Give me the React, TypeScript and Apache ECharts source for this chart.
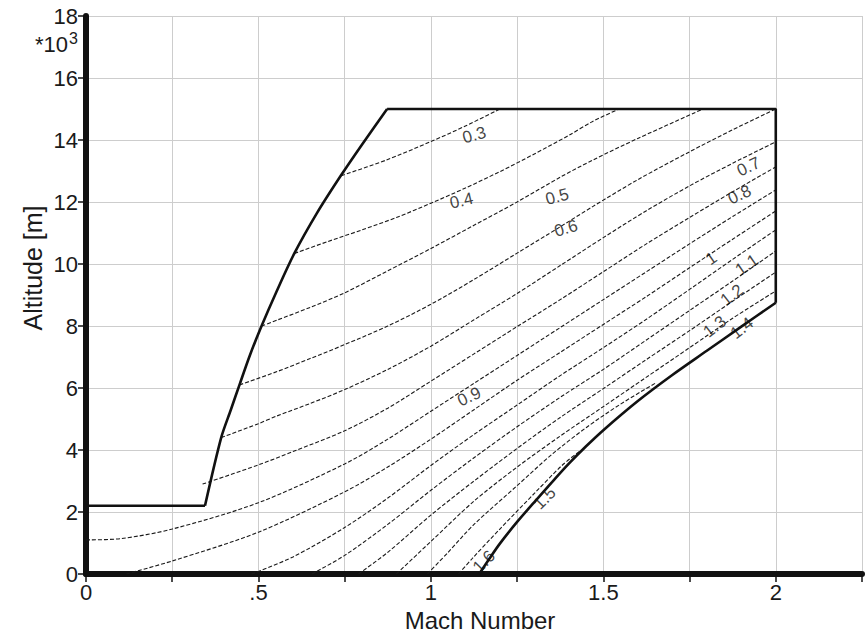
import React, { useEffect, useRef } from "react";
import * as echarts from "echarts";

// Mach tick labels shown on the x axis (every other 0.25 step)
const machLabels: Record<string, string> = { "0": "0", "0.5": ".5", "1": "1", "1.5": "1.5", "2": "2" };

// Flight envelope outline in four pieces: [Mach, altitude in 10^3 m]
const envelopeLeft = [[0, 2.2], [0.345, 2.2]];
const envelopeClimb = [[0.345, 2.2], [0.392, 4.4], [0.42, 5.3], [0.445, 6.1], [0.475, 7.05], [0.509, 8.0], [0.55, 9.05], [0.604, 10.34], [0.67, 11.65], [0.74, 12.87], [0.8, 13.85], [0.873, 15.0]];
const envelopeCeiling = [[0.873, 15.0], [2.0, 15.0], [2.0, 8.75]];
const envelopeLower = [[1.14, 0.0], [1.17, 0.5], [1.2, 0.98], [1.25, 1.68], [1.3, 2.32], [1.35, 2.95], [1.4, 3.56], [1.45, 4.12], [1.5, 4.64], [1.6, 5.58], [1.7, 6.42], [1.8, 7.2], [1.9, 7.98], [2.0, 8.75]];

// Contour lines, one array of [Mach, altitude 10^3 m] per level
const line03 = [[0.74, 12.85], [0.87, 13.35], [1.0, 13.95], [1.1, 14.45], [1.2, 15.0]];
const line04 = [[0.604, 10.34], [0.7, 10.72], [0.8, 11.1], [0.9, 11.5], [1.0, 11.96], [1.1, 12.45], [1.2, 12.98], [1.3, 13.55], [1.4, 14.15], [1.469, 14.6], [1.546, 15.0]];
const line05 = [[0.509, 8.0], [0.554, 8.19], [0.65, 8.6], [0.75, 9.07], [0.875, 9.78], [1.0, 10.5], [1.125, 11.25], [1.25, 12.0], [1.375, 12.8], [1.469, 13.35], [1.6, 14.05], [1.789, 15.0]];
const line06 = [[0.445, 6.1], [0.554, 6.53], [0.65, 6.95], [0.75, 7.4], [0.875, 8.0], [1.0, 8.7], [1.125, 9.5], [1.25, 10.35], [1.375, 11.2], [1.469, 11.85], [1.6, 12.72], [1.75, 13.62], [1.875, 14.33], [2.0, 15.0]];
const line07 = [[0.392, 4.4], [0.5, 4.85], [0.554, 5.1], [0.65, 5.5], [0.75, 5.95], [0.875, 6.6], [1.0, 7.35], [1.125, 8.2], [1.25, 9.05], [1.375, 9.95], [1.5, 10.85], [1.625, 11.72], [1.75, 12.52], [1.875, 13.25], [2.0, 13.94]];
const line08 = [[0.338, 2.9], [0.5, 3.52], [0.6, 3.95], [0.75, 4.62], [0.875, 5.35], [1.0, 6.22], [1.125, 7.1], [1.25, 7.98], [1.375, 8.85], [1.5, 9.75], [1.625, 10.65], [1.75, 11.5], [1.875, 12.33], [2.0, 13.13]];
const line09 = [[0, 1.1], [0.1, 1.14], [0.25, 1.45], [0.5, 2.3], [0.75, 3.55], [0.875, 4.35], [1.0, 5.25], [1.125, 6.15], [1.25, 7.05], [1.375, 7.95], [1.5, 8.85], [1.625, 9.75], [1.75, 10.65], [1.875, 11.53], [2.0, 12.39]];
const line10 = [[0.117, 0], [0.25, 0.42], [0.5, 1.35], [0.75, 2.65], [0.875, 3.45], [1.0, 4.35], [1.125, 5.3], [1.25, 6.25], [1.375, 7.15], [1.5, 8.05], [1.625, 8.95], [1.75, 9.88], [1.875, 10.8], [2.0, 11.71]];
const line11 = [[0.48, 0], [0.6, 0.55], [0.75, 1.5], [0.875, 2.45], [1.0, 3.5], [1.125, 4.5], [1.25, 5.45], [1.375, 6.4], [1.5, 7.3], [1.625, 8.22], [1.75, 9.18], [1.875, 10.15], [2.0, 11.1]];
const line12 = [[0.655, 0], [0.75, 0.6], [0.875, 1.6], [1.0, 2.7], [1.125, 3.75], [1.25, 4.75], [1.375, 5.7], [1.5, 6.6], [1.625, 7.55], [1.75, 8.5], [1.875, 9.45], [2.0, 10.42]];
const line13 = [[0.79, 0], [0.875, 0.7], [1.0, 1.9], [1.125, 3.0], [1.25, 4.05], [1.375, 5.05], [1.5, 5.98], [1.625, 6.92], [1.75, 7.85], [1.875, 8.8], [2.0, 9.74]];
const line14 = [[0.9, 0], [1.0, 1.05], [1.125, 2.35], [1.25, 3.45], [1.375, 4.45], [1.5, 5.4], [1.625, 6.35], [1.75, 7.3], [1.875, 8.25], [2.0, 9.13]];
const line15 = [[0.99, 0], [1.05, 0.7], [1.125, 1.6], [1.25, 2.85], [1.35, 3.85], [1.45, 4.72], [1.55, 5.48], [1.65, 6.15]];
const line16 = [[1.08, 0], [1.12, 0.5], [1.2, 1.45], [1.3, 2.6], [1.38, 3.5], [1.43, 3.95]];

const contourLines = [line03, line04, line05, line06, line07, line08, line09, line10, line11, line12, line13, line14, line15, line16];

// Contour level labels and where they sit [Mach, altitude 10^3 m]
const contourLevels = ["0.3", "0.4", "0.5", "0.6", "0.7", "0.8", "0.9", "1", "1.1", "1.2", "1.3", "1.4", "1.5", "1.6"];
const labelMach = [1.126, 1.089, 1.366, 1.392, 1.921, 1.895, 1.111, 1.813, 1.916, 1.873, 1.823, 1.902, 1.33, 1.154];
const labelAlt = [14.16, 12.04, 12.17, 11.15, 13.14, 12.23, 5.72, 10.18, 9.97, 9.0, 7.98, 7.93, 2.44, 0.4];
const labelTilt = [15, 13, 15, 16, 25, 25, 25, 35, 35, 38, 38, 38, 45, 45];

const FONT = "'Liberation Sans', Arial, Helvetica, sans-serif";
const INK = "#1a1a1a";

export default function App() {
  const ref = useRef<HTMLDivElement>(null);

  useEffect(() => {
    if (!ref.current) return;
    const chart = echarts.init(ref.current, undefined, { renderer: "svg" });

    const labels = contourLevels.map((lvl, i) => ({
      name: lvl,
      value: [labelMach[i], labelAlt[i]],
      label: { rotate: labelTilt[i] },
    }));

    const axisCommon = {
      type: "value" as const,
      axisLine: { show: true, onZero: false, lineStyle: { color: "#111", width: 6 } },
      axisTick: { show: true, inside: false, length: 8, lineStyle: { color: "#111", width: 1.5 } },
      splitLine: { show: true, lineStyle: { color: "#cdcdcd", width: 1 } },
      axisLabel: { color: INK, fontSize: 22, fontFamily: FONT, margin: 8 },
    };

    const boundary = (name: string, data: number[][], smooth: number) => ({
      type: "line",
      name,
      data,
      smooth,
      symbol: "none",
      silent: true,
      z: 3,
      lineStyle: { color: "#111", width: 2.6 },
    });

    chart.setOption({
      animation: false,
      backgroundColor: "#fff",
      textStyle: { fontFamily: FONT },
      grid: { left: 86, top: 16, width: 787.5, height: 558, containLabel: false },
      xAxis: {
        ...axisCommon,
        min: 0,
        max: 2.25,
        interval: 0.25,
        axisLabel: {
          ...axisCommon.axisLabel,
          margin: 7,
          formatter: (v: number) => machLabels[String(Math.round(v * 100) / 100)] ?? "",
        },
      },
      yAxis: {
        ...axisCommon,
        min: 0,
        max: 18,
        interval: 2,
      },
      graphic: [
        {
          type: "text",
          x: 33,
          y: 268,
          rotation: Math.PI / 2,
          style: { text: "Altitude [m]", fontSize: 25, fontFamily: FONT, fill: INK, align: "center", verticalAlign: "middle" },
        },
        {
          type: "text",
          x: 480,
          y: 620,
          style: { text: "Mach Number", fontSize: 24, fontFamily: FONT, fill: INK, align: "center", verticalAlign: "middle" },
        },
        {
          type: "text",
          x: 68,
          y: 44,
          style: { text: "*10", fontSize: 22, fontFamily: FONT, fill: INK, align: "right", verticalAlign: "middle" },
        },
        {
          type: "text",
          x: 69,
          y: 38,
          style: { text: "3", fontSize: 16, fontFamily: FONT, fill: INK, align: "left", verticalAlign: "middle" },
        },
      ],
      series: [
        ...contourLines.map((pts, i) => ({
          type: "line",
          name: contourLevels[i],
          data: pts,
          smooth: 0.3,
          symbol: "none",
          silent: true,
          z: 2,
          lineStyle: { color: "#1a1a1a", width: 1.1, type: [4, 2] },
        })),
        boundary("envelope-left", envelopeLeft, 0),
        boundary("envelope-climb", envelopeClimb, 0.3),
        boundary("envelope-ceiling", envelopeCeiling, 0),
        boundary("envelope-lower", envelopeLower, 0.3),
        {
          type: "scatter",
          name: "levels",
          data: labels,
          symbolSize: 0,
          silent: true,
          z: 5,
          label: {
            show: true,
            position: "inside",
            formatter: "{b}",
            fontSize: 17,
            fontFamily: FONT,
            color: "#111",
          },
        },
      ],
    });

    return () => chart.dispose();
  }, []);

  return (
    <div
      ref={ref}
      style={{ position: "fixed", left: 0, top: 0, width: 865, height: 634, background: "#fff" }}
    />
  );
}
